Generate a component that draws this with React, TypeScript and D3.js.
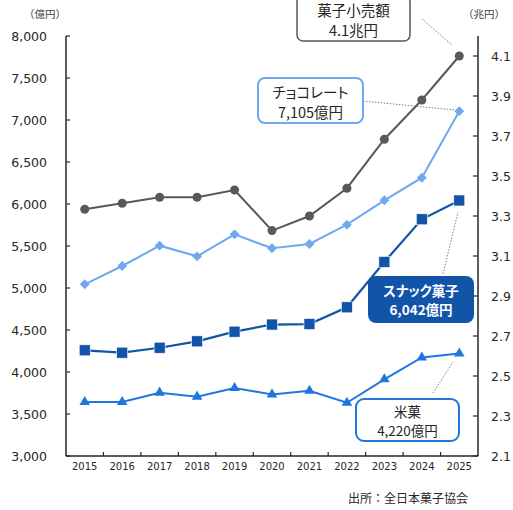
import React from "react";
import * as d3 from "d3";

const years = ["2015","2016","2017","2018","2019","2020","2021","2022","2023","2024","2025"];
const totalTrillion = [3.334,3.364,3.394,3.394,3.43,3.227,3.30,3.439,3.684,3.88,4.10];
const chocolate = [5044,5262,5504,5377,5639,5473,5524,5754,6044,6313,7105];
const snack = [4258,4230,4289,4365,4480,4565,4571,4770,5310,5818,6042];
const riceCracker = [3643,3643,3754,3706,3810,3733,3777,3634,3913,4173,4220];
const leftTicks = [3000,3500,4000,4500,5000,5500,6000,6500,7000,7500,8000];
const rightTicks = [2.1,2.3,2.5,2.7,2.9,3.1,3.3,3.5,3.7,3.9,4.1];

const W = 513, H = 510;
const L = 66, R = 478, T = 36, B = 456;
const FONT = "'DejaVu Sans', Verdana, sans-serif";
const JP = "'Noto Sans CJK JP', sans-serif";

const C_TOTAL = "#595959";
const C_CHOCO = "#6fa8f0";
const C_SNACK = "#1254a8";
const C_RICE = "#1f76e0";

export default function App() {
  const x = d3.scaleBand<string>().domain(years).range([L, R]);
  const cx = (y: string) => (x(y) as number) + x.bandwidth() / 2;
  const yL = d3.scaleLinear().domain([3000, 8000]).range([B, T]);
  const yR = d3.scaleLinear().domain([2.1, 4.2]).range([B, T]);

  const lineL = d3.line<number>().x((_, i) => cx(years[i])).y((d) => yL(d));
  const lineR = d3.line<number>().x((_, i) => cx(years[i])).y((d) => yR(d));

  const diamond = d3.symbol().type(d3.symbolDiamond2).size(62)() as string;
  const triangle = d3.symbol().type(d3.symbolTriangle).size(48)() as string;

  const leader = (x1: number, y1: number, x2: number, y2: number) => (
    <line x1={x1} y1={y1} x2={x2} y2={y2} stroke="#808080" strokeWidth={1} strokeDasharray="1.5,1.5" />
  );

  const callout = (
    cxp: number, y1: number, gap: number, l1: string, l2: string,
    size: number, fill: string, bold: boolean
  ) => (
    <text fontSize={size} fontFamily={JP} fill={fill} fontWeight={bold ? "bold" : "normal"}
      textAnchor="middle" dominantBaseline="central" style={{ fontFeatureSettings: "'palt'" }}>
      <tspan x={cxp} y={y1}>{l1}</tspan>
      <tspan x={cxp} y={y1 + gap}>{l2}</tspan>
    </text>
  );

  return (
    <div style={{ position: "absolute", left: 0, top: 0 }}>
      <svg width={W} height={H} style={{ display: "block", background: "#fff" }}>
        {/* unit labels */}
        <text x={45} y={13} fontSize={10.5} fontFamily={JP} fill="#404040" textAnchor="middle" dominantBaseline="central">（億円）</text>
        <text x={484} y={13} fontSize={10.5} fontFamily={JP} fill="#404040" textAnchor="middle" dominantBaseline="central">（兆円）</text>

        {/* left axis */}
        <line x1={L} y1={T} x2={L} y2={B} stroke="#262626" strokeWidth={1.5} />
        {leftTicks.map((t) => (
          <g key={"l" + t}>
            <line x1={L} x2={L + 4} y1={yL(t)} y2={yL(t)} stroke="#262626" strokeWidth={1.2} />
            <text x={47} y={yL(t)} fontSize={12.5} fontFamily={FONT} fill="#262626" textAnchor="end" dominantBaseline="central">
              {d3.format(",")(t)}
            </text>
          </g>
        ))}
        {/* right axis */}
        <line x1={R} y1={T} x2={R} y2={B} stroke="#262626" strokeWidth={1.5} />
        {rightTicks.map((t) => (
          <g key={"r" + t}>
            <line x1={R - 5} x2={R} y1={yR(t)} y2={yR(t)} stroke="#262626" strokeWidth={1.2} />
            <text x={491} y={yR(t)} fontSize={12.5} fontFamily={FONT} fill="#262626" textAnchor="start" dominantBaseline="central">
              {t.toFixed(1)}
            </text>
          </g>
        ))}
        {/* bottom axis */}
        <line x1={L} y1={B} x2={R} y2={B} stroke="#262626" strokeWidth={1.5} />
        {years.slice(1).map((y) => (
          <line key={"xt" + y} x1={x(y) as number} x2={x(y) as number} y1={B} y2={B - 4} stroke="#262626" strokeWidth={1.2} />
        ))}
        {years.map((y) => (
          <text key={"xl" + y} x={cx(y)} y={466} fontSize={10} fontFamily={FONT} fill="#262626" textAnchor="middle" dominantBaseline="central">
            {y}
          </text>
        ))}

        {/* series: rice crackers */}
        <path d={lineL(riceCracker) as string} fill="none" stroke={C_RICE} strokeWidth={2} />
        {riceCracker.map((v, i) => (
          <path key={"rc" + i} d={triangle} transform={`translate(${cx(years[i])},${yL(v)})`} fill={C_RICE} />
        ))}
        {/* snack */}
        <path d={lineL(snack) as string} fill="none" stroke={C_SNACK} strokeWidth={2.2} />
        {snack.map((v, i) => (
          <rect key={"sn" + i} x={cx(years[i]) - 5.5} y={yL(v) - 5.5} width={11} height={11} fill={C_SNACK} stroke="#fff" strokeWidth={0.6} />
        ))}
        {/* chocolate */}
        <path d={lineL(chocolate) as string} fill="none" stroke={C_CHOCO} strokeWidth={2} />
        {chocolate.map((v, i) => (
          <path key={"ch" + i} d={diamond} transform={`translate(${cx(years[i])},${yL(v)})`} fill={C_CHOCO} />
        ))}
        {/* total */}
        <path d={lineR(totalTrillion) as string} fill="none" stroke={C_TOTAL} strokeWidth={2} />
        {totalTrillion.map((v, i) => (
          <circle key={"to" + i} cx={cx(years[i])} cy={yR(v)} r={4.5} fill={C_TOTAL} />
        ))}

        {/* leaders */}
        {leader(422, 19, 452, 45)}
        {leader(363, 101, 455, 110)}
        {leader(443, 274, 458, 212)}
        {leader(433, 393, 453, 362)}

        {/* callout: total */}
        <rect x={297} y={-4} width={113} height={45} rx={6} fill="#fff" stroke={C_TOTAL} strokeWidth={1.5} />
        {callout(353.5, 9, 20, "菓子小売額", "4.1兆円", 14.5, "#262626", false)}

        {/* callout: chocolate */}
        <rect x={258} y={78} width={105} height={45} rx={7} fill="#fff" stroke={C_CHOCO} strokeWidth={2} />
        {callout(310.5, 91, 20, "チョコレート", "7,105億円", 14.5, "#262626", false)}

        {/* callout: snack */}
        <rect x={368} y={276} width={106} height={47} rx={8} fill={C_SNACK} />
        {callout(421, 290, 19, "スナック菓子", "6,042億円", 13.5, "#fff", true)}

        {/* callout: rice */}
        <rect x={356} y={399} width={103} height={42} rx={8} fill="#fff" stroke={C_RICE} strokeWidth={2} />
        {callout(407.5, 410.5, 19, "米菓", "4,220億円", 13.5, "#262626", false)}

        {/* source */}
        <text x={468} y={497} fontSize={12} fontFamily={JP} fill="#262626" textAnchor="end" dominantBaseline="central">出所：全日本菓子協会</text>
      </svg>
    </div>
  );
}
